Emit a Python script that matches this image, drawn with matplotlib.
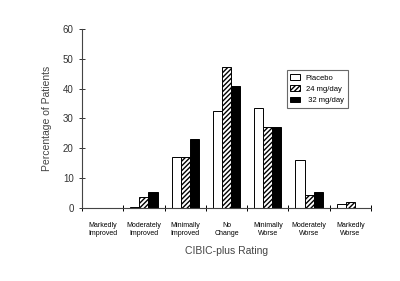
import numpy as np
import matplotlib.pyplot as plt

plt.rcParams['font.family'] = ['Liberation Sans', 'DejaVu Sans']
plt.rcParams['hatch.linewidth'] = 1.0

categories = ['Markedly\nImproved', 'Moderately\nImproved', 'Minimally\nImproved',
              'No\nChange', 'Minimally\nWorse', 'Moderately\nWorse', 'Markedly\nWorse']
placebo = [0, 0.4, 17.2, 32.6, 33.5, 16.1, 1.2]
mg24 = [0, 3.6, 17.2, 47.1, 27.1, 4.3, 1.9]
mg32 = [0, 5.4, 23.0, 41.0, 27.0, 5.4, 0]

fig = plt.figure(figsize=(4, 2.81), dpi=100)
ax = fig.add_axes([0.205, 0.26, 0.7225, 0.637])

x = np.arange(len(categories))
w = 0.22
ax.bar(x - w, placebo, w, color='white', edgecolor='black', lw=0.7, label='Placebo')
ax.bar(x, mg24, w, color='white', edgecolor='black', lw=0.7, hatch='///////', label='24 mg/day')
ax.bar(x + w, mg32, w, color='black', edgecolor='black', lw=0.7, label=' 32 mg/day')

ax.set_xlim(-0.5, len(categories) - 0.5)
ax.set_ylim(0, 60)
ax.set_yticks(range(0, 61, 10))
ax.set_xticks(np.arange(len(categories) + 1) - 0.5)
ax.set_xticklabels([])
ax.set_xticks(x, minor=True)
ax.set_xticklabels(categories, minor=True, fontsize=5, linespacing=1.3)
ax.tick_params(axis='x', which='minor', length=0, pad=10)
ax.tick_params(axis='x', which='major', direction='inout', length=5, width=0.7)
ax.tick_params(axis='y', direction='inout', length=5, width=0.7, labelsize=7, colors='#333333')
for s in ['top', 'right']:
    ax.spines[s].set_visible(False)
for s in ['left', 'bottom']:
    ax.spines[s].set_color('#444444')
    ax.spines[s].set_linewidth(0.8)

ax.set_ylabel('Percentage of Patients', fontsize=7.5, color='#444444', labelpad=8)
ax.set_xlabel('CIBIC-plus Rating', fontsize=7.5, color='#444444', labelpad=6)

leg = ax.legend(loc='upper left', bbox_to_anchor=(0.695, 0.79), fontsize=5.5,
                frameon=True, fancybox=False, edgecolor='#444444', handlelength=1.2,
                handleheight=0.7, borderpad=0.5, labelspacing=0.5)
leg.get_frame().set_linewidth(0.8)

fig.savefig('out.png', dpi=100)
